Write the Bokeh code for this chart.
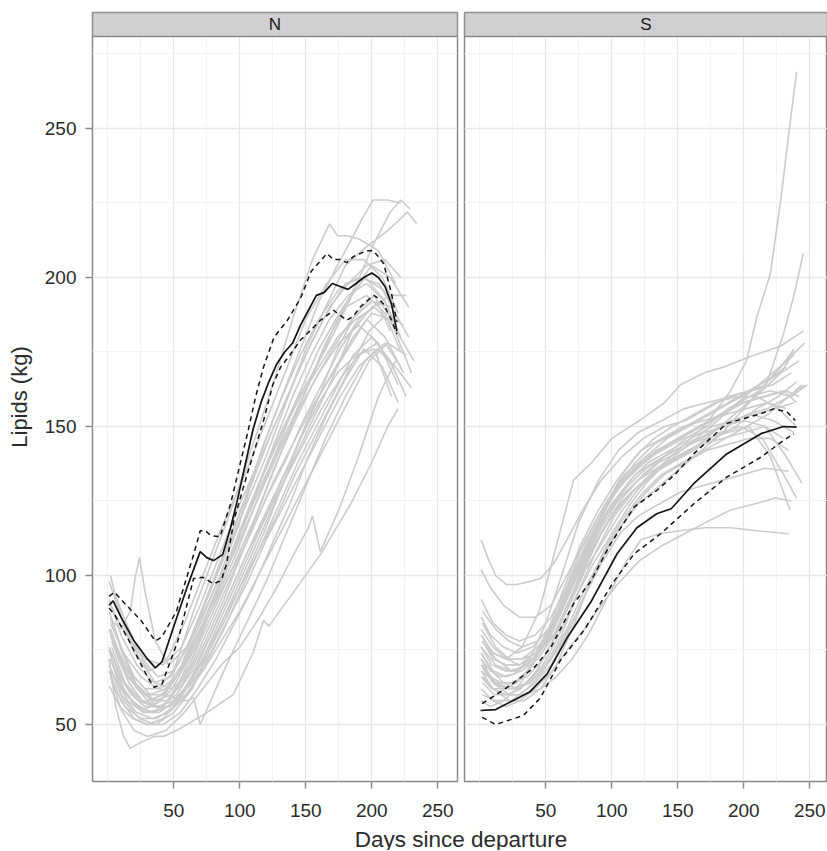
from bokeh.plotting import figure
from bokeh.models import Range1d, FixedTicker, BoxAnnotation, Label
from bokeh.layouts import row, column
from bokeh.embed import file_html
from bokeh.resources import INLINE

# ---------------- data ----------------
PANELS = ["N", "S"]
X_TICKS = [50, 100, 150, 200, 250]
X_MINOR = [0, 25, 75, 125, 175, 225]
Y_TICKS = [50, 100, 150, 200, 250]
Y_MINOR = [75, 125, 175, 225, 275]
X_TITLE = "Days since departure"
Y_TITLE = "Lipids (kg)"

# --- N: individual tracks (day, kg)
N01_D = [2, 12, 25, 38, 50, 65, 80, 95, 110, 125, 140, 155, 168, 174, 181, 190, 205, 218]
N01_V = [84, 74, 66, 62, 68, 88, 106, 124, 144, 164, 186, 206, 218, 214, 214, 213, 209, 198]
N02_D = [3, 15, 30, 42, 55, 70, 85, 100, 115, 130, 145, 160, 175, 186, 193, 201, 212, 222]
N02_V = [78, 66, 58, 60, 68, 84, 100, 118, 140, 158, 175, 192, 205, 214, 220, 226, 226, 225]
N03_D = [1, 10, 22, 35, 48, 60, 75, 90, 105, 120, 135, 150, 165, 180, 195, 210, 220, 227, 234]
N03_V = [92, 80, 70, 64, 66, 76, 92, 108, 124, 140, 158, 176, 190, 204, 210, 215, 219, 222, 218]
N04_D = [4, 14, 28, 40, 52, 66, 80, 96, 112, 128, 142, 158, 172, 186, 200, 214, 222, 229]
N04_V = [70, 60, 54, 55, 62, 76, 90, 106, 124, 142, 158, 170, 182, 195, 210, 222, 226, 223]
N05_D = [2, 10, 20, 32, 45, 58, 72, 88, 104, 120, 136, 150, 166, 180, 194, 208, 220]
N05_V = [100, 86, 74, 68, 72, 84, 100, 118, 134, 152, 170, 186, 198, 206, 206, 200, 188]
N06_D = [1, 8, 18, 28, 40, 55, 70, 85, 100, 118, 135, 150, 165, 180, 196, 210, 222]
N06_V = [75, 64, 58, 55, 58, 68, 82, 98, 114, 132, 148, 162, 178, 190, 194, 188, 175]
N07_D = [3, 12, 24, 36, 50, 64, 78, 92, 108, 124, 140, 155, 170, 185, 200, 214, 226]
N07_V = [68, 58, 52, 50, 54, 62, 76, 90, 106, 122, 138, 152, 166, 182, 190, 194, 194]
N08_D = [2, 10, 17, 21, 24, 28, 36, 46, 60, 75, 92, 108, 125, 142, 160, 178, 195, 210, 222]
N08_V = [85, 82, 88, 100, 106, 95, 78, 70, 76, 90, 106, 124, 142, 158, 176, 190, 200, 192, 180]
N09_D = [1, 6, 12, 17, 25, 35, 42, 52, 60, 75, 95, 110, 118, 122, 140, 161, 184, 200, 212, 220]
N09_V = [72, 56, 46, 42, 44, 46, 46, 48, 50, 54, 60, 74, 85, 83, 94, 107, 124, 138, 150, 156]
N10_D = [2, 10, 20, 30, 44, 58, 72, 86, 100, 115, 128, 142, 152, 155, 161, 175, 190, 205, 218]
N10_V = [66, 55, 48, 46, 48, 54, 62, 70, 76, 86, 96, 108, 116, 120, 108, 122, 140, 160, 172]
N11_D = [3, 15, 30, 45, 55, 60, 65, 70, 78, 90, 105, 120, 135, 150, 165, 180, 195, 210, 222]
N11_V = [78, 66, 60, 60, 58, 58, 59, 50, 58, 70, 84, 98, 114, 130, 146, 160, 172, 178, 170]
N12_D = [1, 10, 20, 32, 44, 56, 68, 82, 96, 110, 124, 138, 152, 166, 180, 194, 208, 220]
N12_V = [88, 76, 66, 60, 62, 70, 84, 100, 116, 132, 148, 162, 176, 188, 198, 200, 196, 186]
N13_D = [2, 12, 22, 34, 46, 58, 70, 84, 98, 112, 126, 140, 155, 170, 185, 200, 215, 228]
N13_V = [72, 62, 56, 54, 58, 66, 78, 92, 106, 120, 136, 150, 164, 176, 186, 192, 190, 180]
N14_D = [4, 14, 26, 38, 50, 62, 76, 90, 104, 118, 132, 146, 160, 175, 190, 205, 218]
N14_V = [95, 84, 72, 66, 68, 78, 94, 110, 126, 144, 160, 174, 186, 196, 200, 198, 190]
N15_D = [1, 9, 19, 30, 42, 54, 68, 82, 96, 110, 125, 140, 155, 170, 186, 200, 214, 230]
N15_V = [63, 56, 52, 50, 52, 58, 70, 84, 98, 112, 126, 140, 156, 168, 180, 188, 186, 168]
N16_D = [2, 12, 24, 36, 48, 62, 76, 90, 104, 118, 132, 146, 160, 174, 188, 202, 216, 232]
N16_V = [80, 70, 62, 58, 60, 70, 86, 102, 118, 134, 148, 160, 170, 180, 186, 190, 184, 172]
N17_D = [3, 13, 25, 37, 49, 61, 74, 88, 102, 116, 130, 145, 160, 175, 190, 205, 220]
N17_V = [76, 64, 58, 57, 62, 72, 86, 100, 114, 128, 142, 156, 168, 178, 184, 178, 164]
N18_D = [1, 10, 22, 34, 46, 60, 74, 88, 102, 116, 130, 144, 158, 172, 186, 200, 214, 226]
N18_V = [70, 60, 54, 52, 54, 60, 70, 82, 96, 110, 124, 138, 150, 162, 174, 180, 172, 160]
N19_D = [2, 11, 21, 33, 45, 57, 70, 84, 98, 112, 126, 140, 154, 168, 182, 196, 210, 224]
N19_V = [86, 74, 64, 58, 58, 64, 76, 90, 104, 118, 132, 144, 156, 166, 176, 186, 180, 168]
N20_D = [5, 15, 27, 39, 51, 64, 78, 92, 106, 120, 134, 148, 162, 176, 190, 204, 218, 230]
N20_V = [66, 58, 54, 54, 58, 64, 74, 86, 98, 112, 124, 136, 148, 160, 170, 176, 170, 163]
N21_D = [1, 8, 16, 26, 38, 50, 62, 76, 90, 104, 118, 132, 146, 160, 174, 188, 202, 214]
N21_V = [82, 72, 64, 58, 56, 58, 64, 74, 86, 100, 114, 130, 146, 160, 176, 188, 194, 182]
N22_D = [3, 12, 23, 35, 47, 59, 72, 86, 100, 114, 128, 142, 156, 170, 184, 198, 212, 226]
N22_V = [74, 64, 58, 56, 56, 60, 68, 78, 88, 100, 112, 124, 136, 148, 160, 172, 178, 174]
N23_D = [2, 14, 28, 42, 56, 70, 84, 98, 112, 126, 140, 154, 168, 182, 196, 210, 222]
N23_V = [90, 80, 72, 70, 76, 90, 106, 122, 136, 150, 164, 178, 190, 198, 204, 206, 200]
N24_D = [1, 10, 20, 30, 42, 55, 68, 82, 96, 110, 124, 138, 152, 166, 180, 194, 208, 220]
N24_V = [68, 58, 52, 50, 50, 54, 62, 72, 84, 96, 110, 124, 140, 154, 166, 176, 170, 158]
N25_D = [4, 16, 28, 40, 52, 64, 78, 92, 106, 120, 134, 148, 162, 176, 190, 206, 218]
N25_V = [78, 68, 62, 62, 66, 76, 88, 100, 112, 126, 138, 152, 164, 176, 186, 192, 184]
N26_D = [2, 10, 22, 34, 46, 58, 72, 86, 100, 114, 128, 142, 156, 170, 184, 198, 212, 224]
N26_V = [72, 62, 56, 54, 56, 62, 72, 84, 96, 108, 120, 134, 146, 158, 170, 182, 188, 184]
N27_D = [1, 12, 24, 36, 48, 60, 74, 88, 102, 116, 130, 144, 158, 172, 186, 200, 214, 228]
N27_V = [98, 84, 72, 64, 62, 66, 78, 92, 108, 124, 140, 156, 170, 184, 196, 204, 200, 190]
N28_D = [3, 13, 25, 37, 50, 63, 76, 90, 104, 118, 132, 146, 160, 174, 188, 202, 215]
N28_V = [64, 56, 52, 52, 56, 64, 76, 90, 104, 118, 132, 146, 158, 168, 174, 176, 160]
N29_D = [2, 12, 22, 34, 46, 58, 70, 84, 98, 112, 126, 140, 154, 168, 182, 196, 210]
N29_V = [82, 70, 62, 58, 62, 70, 82, 96, 112, 128, 144, 160, 174, 186, 194, 198, 192]
N30_D = [1, 9, 18, 28, 40, 52, 64, 78, 92, 106, 120, 134, 148, 162, 176, 190, 204, 216]
N30_V = [76, 66, 60, 56, 56, 60, 68, 80, 94, 108, 120, 132, 144, 156, 166, 174, 178, 170]

# --- N: fitted mean and confidence band
N_MEAN_D = [1, 4, 10, 20, 30, 36, 41, 50, 60, 70, 75, 80, 87, 93, 98, 104, 110, 116, 122, 128,
            134, 140, 146, 152, 158, 164, 170, 176, 182, 188, 194, 200, 205, 210, 215, 219]
N_MEAN_V = [90, 91.5, 86, 78, 72, 69, 71, 83, 96, 108, 106, 105, 107, 116, 125, 137, 149, 158, 165, 171,
            175, 178, 184, 189, 194, 195, 198, 197, 196, 198, 200, 201.5, 200, 197, 191, 182]
N_UP_D = [1, 5, 12, 25, 36, 41, 52, 65, 70, 74, 78, 85, 93, 100, 106, 112, 118, 126, 136, 146,
          154, 160, 166, 171, 176, 181, 186, 191, 196, 201, 205, 209, 215, 219]
N_UP_V = [93, 94.4, 91, 85, 78, 79.4, 88, 107, 115, 115, 113.4, 113, 124, 137, 148, 160, 170, 180, 185.6, 193,
          202, 205, 208, 206, 206, 205, 207, 208, 209, 209, 207, 204.6, 194.5, 185]
N_LO_D = [1, 5, 15, 30, 35, 41, 53, 65, 72, 80, 86, 90, 95.5, 105.6, 118, 125, 131, 138, 146, 153,
          161, 171, 181, 186, 191, 196, 201.5, 205, 209, 215, 219]
N_LO_V = [89, 87, 79, 66, 62.5, 63.5, 78, 99, 99.4, 97.2, 98.3, 104, 118.5, 134, 152, 164, 170, 174, 179, 182,
          185.6, 189, 185.6, 187, 190, 192, 194, 193, 191, 185.6, 181]

# --- S: individual tracks (day, kg)
S01_D = [1, 10, 20, 32, 45, 58, 71, 85, 100, 121, 140, 152, 170, 185, 202, 215, 228, 245]
S01_V = [80, 74, 72, 76, 88, 110, 132, 138, 146, 152, 158, 164, 168, 170, 173, 175, 177, 182]
S02_D = [1, 8, 16, 26, 38, 50, 62, 75, 90, 105, 120, 138, 155, 172, 190, 205, 217, 230, 238, 245]
S02_V = [72, 68, 66, 67, 72, 84, 100, 118, 132, 142, 148, 152, 156, 158, 160, 162, 164, 181, 194, 208]
S03_D = [2, 12, 24, 36, 48, 60, 72, 86, 100, 115, 130, 150, 170, 190, 202, 210, 220, 228, 234, 240]
S03_V = [78, 72, 68, 70, 76, 86, 98, 110, 120, 128, 134, 142, 150, 162, 172, 187, 201, 226, 248, 269]
S04_D = [1, 6, 12, 20, 28, 38, 46, 56, 66, 78, 92, 108, 124, 140, 156, 172, 188, 204, 220, 232]
S04_V = [112, 106, 100, 97, 97, 98, 99, 104, 112, 122, 132, 140, 146, 150, 152, 156, 160, 162, 166, 170]
S05_D = [1, 8, 18, 30, 42, 54, 66, 80, 95, 110, 126, 142, 158, 174, 190, 206, 222, 236]
S05_V = [102, 96, 90, 86, 86, 90, 100, 112, 124, 134, 140, 146, 150, 154, 158, 162, 164, 168]
S06_D = [1, 10, 20, 30, 42, 54, 66, 78, 92, 106, 120, 136, 152, 168, 184, 200, 216, 232, 242]
S06_V = [92, 84, 80, 78, 80, 86, 96, 108, 120, 130, 136, 142, 146, 150, 154, 158, 160, 162, 160]
S07_D = [1, 10, 22, 34, 46, 58, 70, 82, 96, 110, 122, 136, 152, 170, 190, 210, 234]
S07_V = [70, 64, 60, 60, 62, 66, 72, 80, 92, 104, 112, 114, 115, 116, 116, 115, 114]
S08_D = [1, 10, 20, 30, 42, 55, 68, 81, 92, 104, 121, 138, 155, 172, 190, 208, 224, 236]
S08_V = [62, 58, 56, 58, 62, 68, 76, 83, 90, 97, 105, 110, 114, 118, 122, 124, 126, 125]
S09_D = [2, 12, 22, 32, 44, 56, 68, 80, 94, 108, 122, 138, 154, 170, 186, 202, 218, 234, 244]
S09_V = [84, 76, 72, 72, 76, 84, 96, 110, 122, 132, 138, 142, 146, 148, 150, 154, 156, 160, 164]
S10_D = [1, 9, 18, 28, 40, 52, 64, 76, 90, 104, 118, 134, 150, 166, 182, 198, 214, 230, 240]
S10_V = [66, 62, 62, 64, 70, 80, 94, 108, 120, 130, 136, 142, 146, 150, 154, 158, 160, 162, 158]
S11_D = [1, 10, 20, 32, 44, 56, 68, 80, 94, 108, 124, 140, 156, 172, 188, 204, 220, 236, 248]
S11_V = [74, 68, 66, 68, 72, 80, 92, 104, 116, 126, 134, 140, 146, 150, 156, 160, 162, 160, 164]
S12_D = [2, 12, 24, 36, 48, 60, 72, 86, 100, 114, 128, 142, 158, 174, 190, 206, 222, 238]
S12_V = [70, 64, 62, 64, 70, 80, 92, 104, 114, 124, 132, 138, 144, 148, 152, 154, 152, 148]
S13_D = [1, 8, 18, 28, 40, 52, 64, 78, 92, 106, 120, 136, 152, 168, 184, 200, 216, 232, 244]
S13_V = [86, 80, 76, 74, 76, 82, 92, 104, 116, 126, 132, 138, 142, 146, 150, 152, 150, 140, 131]
S14_D = [2, 10, 20, 30, 42, 54, 66, 78, 92, 106, 120, 134, 150, 166, 182, 198, 214, 230, 240]
S14_V = [78, 72, 70, 70, 74, 82, 94, 106, 118, 126, 132, 136, 140, 144, 148, 150, 146, 134, 126]
S15_D = [1, 12, 24, 36, 48, 60, 72, 84, 98, 112, 126, 140, 156, 172, 188, 204, 220, 235]
S15_V = [68, 64, 64, 66, 72, 82, 96, 110, 122, 130, 136, 140, 144, 146, 148, 150, 140, 122]
S16_D = [1, 9, 19, 29, 41, 53, 65, 77, 90, 104, 118, 132, 148, 164, 180, 196, 212, 228, 238]
S16_V = [76, 70, 68, 68, 72, 80, 92, 104, 116, 126, 134, 138, 142, 146, 152, 158, 162, 170, 176]
S17_D = [2, 11, 21, 31, 43, 55, 67, 79, 92, 106, 120, 135, 150, 166, 182, 198, 214, 228, 238]
S17_V = [64, 60, 60, 62, 68, 78, 90, 102, 114, 124, 130, 136, 140, 144, 150, 156, 162, 168, 175]
S18_D = [1, 10, 20, 32, 44, 56, 68, 80, 94, 108, 122, 136, 152, 168, 184, 200, 216, 230]
S18_V = [80, 74, 72, 72, 74, 80, 90, 102, 112, 122, 130, 136, 140, 144, 146, 148, 150, 146]
S19_D = [1, 8, 16, 26, 36, 48, 60, 72, 86, 100, 114, 128, 144, 160, 176, 192, 208, 224, 238]
S19_V = [72, 66, 64, 64, 68, 76, 88, 102, 114, 124, 132, 138, 142, 146, 150, 152, 154, 156, 158]
S20_D = [2, 12, 24, 36, 48, 60, 72, 84, 98, 112, 126, 140, 156, 172, 188, 204, 220, 234]
S20_V = [60, 58, 58, 62, 68, 76, 86, 98, 110, 120, 128, 134, 138, 142, 144, 146, 146, 142]
S21_D = [1, 10, 20, 30, 40, 52, 64, 76, 90, 104, 118, 132, 148, 164, 180, 196, 212, 228, 242]
S21_V = [82, 76, 72, 70, 72, 78, 90, 104, 118, 130, 138, 144, 148, 152, 156, 160, 164, 168, 172]
S22_D = [1, 9, 18, 28, 38, 50, 62, 74, 88, 102, 116, 130, 146, 162, 178, 194, 210, 226, 240]
S22_V = [74, 68, 64, 62, 64, 70, 80, 94, 108, 120, 128, 134, 138, 142, 146, 150, 156, 160, 165]
S23_D = [2, 12, 22, 32, 44, 56, 68, 80, 94, 108, 122, 138, 154, 170, 186, 202, 218, 232]
S23_V = [88, 82, 78, 76, 78, 84, 94, 108, 122, 134, 142, 146, 150, 152, 154, 156, 158, 156]
S24_D = [1, 10, 20, 30, 42, 54, 66, 78, 92, 106, 120, 136, 152, 168, 184, 200, 216, 232, 246]
S24_V = [70, 64, 62, 62, 66, 72, 82, 94, 106, 116, 124, 130, 136, 142, 148, 156, 164, 172, 178]
S25_D = [1, 8, 18, 28, 40, 52, 64, 76, 90, 104, 118, 132, 146, 162, 178, 194, 210, 226, 240]
S25_V = [58, 56, 58, 62, 70, 82, 96, 110, 122, 132, 140, 146, 150, 154, 158, 160, 160, 156, 150]
S26_D = [2, 10, 20, 30, 42, 54, 66, 78, 92, 106, 120, 136, 152, 168, 184, 200, 216, 234]
S26_V = [66, 62, 60, 60, 64, 70, 80, 92, 104, 114, 120, 124, 128, 130, 132, 134, 136, 135]
S27_D = [1, 12, 24, 36, 48, 60, 72, 86, 100, 114, 128, 142, 158, 174, 190, 206, 222, 238]
S27_V = [76, 70, 68, 70, 76, 86, 100, 114, 126, 134, 140, 144, 148, 152, 156, 162, 168, 174]
S28_D = [1, 10, 22, 34, 46, 58, 70, 82, 96, 110, 124, 138, 154, 170, 186, 202, 218, 234, 246]
S28_V = [68, 62, 58, 58, 62, 70, 82, 96, 110, 120, 128, 134, 138, 142, 146, 150, 154, 160, 164]

# --- S: fitted mean and confidence band
S_MEAN_D = [0.5, 12, 25, 38, 51, 66, 84, 104, 119, 134, 145, 162, 187, 213, 230, 240]
S_MEAN_V = [54.7, 55, 58, 61, 67, 79, 91, 107.3, 116, 120.7, 122.4, 130.8, 140.8, 147.6, 150, 149.8]
S_UP_D = [1.8, 21, 41, 54, 71, 84, 99, 117, 134, 148, 162, 187, 213, 223, 233, 239]
S_UP_V = [57, 62.5, 69, 76, 90.5, 98, 110.6, 123, 128.5, 134, 140.8, 151, 154.3, 156, 154.8, 152]
S_LO_D = [1.8, 12, 33, 46, 61, 79, 101.5, 117, 137, 162, 187, 213, 230, 238]
S_LO_V = [52.4, 50, 53, 59, 71.5, 81.6, 98, 107.3, 114, 124, 133, 139.7, 145.3, 147.6]

N_TRACKS = [(N01_D, N01_V), (N02_D, N02_V), (N03_D, N03_V), (N04_D, N04_V), (N05_D, N05_V),
            (N06_D, N06_V), (N07_D, N07_V), (N08_D, N08_V), (N09_D, N09_V), (N10_D, N10_V),
            (N11_D, N11_V), (N12_D, N12_V), (N13_D, N13_V), (N14_D, N14_V), (N15_D, N15_V),
            (N16_D, N16_V), (N17_D, N17_V), (N18_D, N18_V), (N19_D, N19_V), (N20_D, N20_V),
            (N21_D, N21_V), (N22_D, N22_V), (N23_D, N23_V), (N24_D, N24_V), (N25_D, N25_V),
            (N26_D, N26_V), (N27_D, N27_V), (N28_D, N28_V), (N29_D, N29_V), (N30_D, N30_V)]
S_TRACKS = [(S01_D, S01_V), (S02_D, S02_V), (S03_D, S03_V), (S04_D, S04_V), (S05_D, S05_V),
            (S06_D, S06_V), (S07_D, S07_V), (S08_D, S08_V), (S09_D, S09_V), (S10_D, S10_V),
            (S11_D, S11_V), (S12_D, S12_V), (S13_D, S13_V), (S14_D, S14_V), (S15_D, S15_V),
            (S16_D, S16_V), (S17_D, S17_V), (S18_D, S18_V), (S19_D, S19_V), (S20_D, S20_V),
            (S21_D, S21_V), (S22_D, S22_V), (S23_D, S23_V), (S24_D, S24_V), (S25_D, S25_V),
            (S26_D, S26_V), (S27_D, S27_V), (S28_D, S28_V)]

# ---------------- layout / style ----------------
FONT = "Liberation Sans"
TEXT_COL = "#2b2b2b"
BORDER_COL = "#8a8a8a"
STRIP_FILL = "#d0d0d2"
TRACK_COL = "#cbcbcb"
MEAN_COL = "#141414"

MB_TOP = 12
MB_BOTTOM = 45
FRAME_BOTTOM = 781
PANEL_H = FRAME_BOTTOM + MB_BOTTOM
STRIP_PX = 24
FRAME_H = FRAME_BOTTOM - MB_TOP
PX_PER_KG = 2.98
STRIP_BOTTOM = 280.87
Y_START = STRIP_BOTTOM - (FRAME_H - STRIP_PX) / PX_PER_KG
Y_TOP = STRIP_BOTTOM + STRIP_PX / PX_PER_KG
PX_PER_DAY = 1.32
X_START = -11.6

LEFT_MB_L, LEFT_FRAME, LEFT_MB_R = 92, 365, 3
RIGHT_MB_L, RIGHT_FRAME, RIGHT_MB_R = 4, 363, 0
TITLE_H = 24


def style_xaxis(p):
    ax = p.xaxis[0]
    ax.ticker = FixedTicker(ticks=X_TICKS, minor_ticks=X_MINOR)
    ax.major_tick_out = 7
    ax.major_tick_in = 0
    ax.major_tick_line_color = BORDER_COL
    ax.major_tick_line_width = 1.5
    ax.minor_tick_line_color = None
    ax.axis_line_color = None
    ax.major_label_text_font = FONT
    ax.major_label_text_font_size = "19px"
    ax.major_label_text_color = TEXT_COL
    ax.major_label_standoff = 15


def make_panel(name, tracks, mean, up, lo, mb_l, frame_w, mb_r, show_y):
    x_end = X_START + frame_w / PX_PER_DAY
    p = figure(width=mb_l + frame_w + mb_r, height=PANEL_H,
               x_range=Range1d(X_START, x_end), y_range=Range1d(Y_START, Y_TOP),
               output_backend="svg", toolbar_location=None,
               y_axis_location="left" if show_y else None,
               min_border_left=mb_l, min_border_right=mb_r,
               min_border_top=MB_TOP, min_border_bottom=MB_BOTTOM)
    p.background_fill_color = "white"
    p.border_fill_color = "white"
    p.outline_line_color = BORDER_COL
    p.outline_line_width = 1.5
    p.outline_line_alpha = 1.0

    style_xaxis(p)
    if show_y:
        ay = p.yaxis[0]
        ay.ticker = FixedTicker(ticks=Y_TICKS, minor_ticks=Y_MINOR)
        ay.major_tick_out = 7
        ay.major_tick_in = 0
        ay.major_tick_line_color = BORDER_COL
        ay.major_tick_line_width = 1.5
        ay.minor_tick_line_color = None
        ay.axis_line_color = None
        ay.major_label_text_font = FONT
        ay.major_label_text_font_size = "19px"
        ay.major_label_text_color = TEXT_COL
        ay.major_label_standoff = 9
        ay.axis_label = Y_TITLE
        ay.axis_label_text_font = FONT
        ay.axis_label_text_font_size = "22px"
        ay.axis_label_text_font_style = "normal"
        ay.axis_label_text_color = TEXT_COL
        ay.axis_label_standoff = 10

    p.xgrid.ticker = FixedTicker(ticks=X_TICKS, minor_ticks=X_MINOR)
    p.ygrid.ticker = FixedTicker(ticks=Y_TICKS, minor_ticks=Y_MINOR)
    for g in (p.xgrid[0], p.ygrid[0]):
        g.grid_line_color = "#e6e6e6"
        g.grid_line_width = 1.3
        g.minor_grid_line_color = "#f3f3f3"
        g.minor_grid_line_width = 1.0

    p.multi_line(xs=[t[0] for t in tracks], ys=[t[1] for t in tracks],
                 line_color=TRACK_COL, line_width=1.6)
    p.line(up[0], up[1], line_color=MEAN_COL, line_width=1.5, line_dash="5 4")
    p.line(lo[0], lo[1], line_color=MEAN_COL, line_width=1.5, line_dash="5 4")
    p.line(mean[0], mean[1], line_color=MEAN_COL, line_width=1.7)

    strip = BoxAnnotation(bottom=STRIP_BOTTOM, fill_color=STRIP_FILL, fill_alpha=1.0,
                          line_color=BORDER_COL, line_width=1.5, line_alpha=1.0)
    p.add_layout(strip)
    p.add_layout(Label(x=(X_START + x_end) / 2, y=(STRIP_BOTTOM + Y_TOP) / 2, text=name,
                       text_align="center", text_baseline="middle",
                       text_font=FONT, text_font_size="17px", text_color="#1a1a1a"))
    return p


p_n = make_panel(PANELS[0], N_TRACKS, (N_MEAN_D, N_MEAN_V), (N_UP_D, N_UP_V), (N_LO_D, N_LO_V),
                 LEFT_MB_L, LEFT_FRAME, LEFT_MB_R, True)
p_s = make_panel(PANELS[1], S_TRACKS, (S_MEAN_D, S_MEAN_V), (S_UP_D, S_UP_V), (S_LO_D, S_LO_V),
                 RIGHT_MB_L, RIGHT_FRAME, RIGHT_MB_R, False)

TOTAL_W = LEFT_MB_L + LEFT_FRAME + LEFT_MB_R + RIGHT_MB_L + RIGHT_FRAME + RIGHT_MB_R
p_t = figure(width=TOTAL_W, height=TITLE_H, x_range=Range1d(0, TOTAL_W), y_range=Range1d(0, TITLE_H),
             output_backend="svg", toolbar_location=None,
             x_axis_location=None, y_axis_location=None,
             min_border_left=0, min_border_right=0, min_border_top=0, min_border_bottom=0)
p_t.outline_line_color = None
p_t.xgrid.visible = False
p_t.ygrid.visible = False
p_t.background_fill_color = "white"
p_t.border_fill_color = "white"
center_x = (LEFT_MB_L + TOTAL_W + 2) / 2
p_t.add_layout(Label(x=center_x, y=TITLE_H, text=X_TITLE, text_align="center", text_baseline="top",
                     text_font=FONT, text_font_size="22.5px", text_color=TEXT_COL))

layout = column(row(p_n, p_s), p_t)
open("out.html", "w").write(file_html(layout, INLINE))
